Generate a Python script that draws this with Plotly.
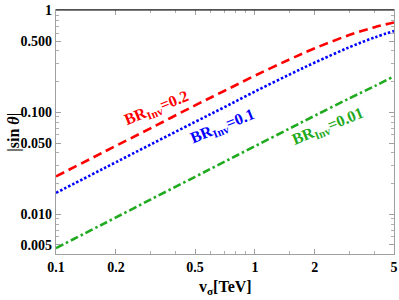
import math
import plotly.graph_objects as go

# data
v_sigma = [0.1, 0.15, 0.2, 0.3, 0.5, 0.7, 1.0, 1.5, 2.0, 3.0, 4.0, 5.0]
sin_br02 = [0.0235, 0.0352, 0.0469, 0.070, 0.117, 0.162, 0.229, 0.332, 0.425, 0.576, 0.685, 0.762]
sin_br01 = [0.0162, 0.0243, 0.0324, 0.0485, 0.0805, 0.112, 0.160, 0.236, 0.308, 0.437, 0.544, 0.627]
sin_br001 = [0.00465, 0.00698, 0.0093, 0.0140, 0.0233, 0.0326, 0.0465, 0.0697, 0.0928, 0.138, 0.181, 0.226]

x_ticks = [0.1, 0.2, 0.5, 1, 2, 5]
x_ticktext = ["0.1", "0.2", "0.5", "1", "2", "5"]
y_ticks = [0.005, 0.01, 0.05, 0.1, 0.5, 1]
y_ticktext = ["0.005", "0.010", "0.050", "0.100", "0.500", "1"]
x_minor = [0.3, 0.4, 0.6, 0.7, 0.8, 0.9, 1.5, 3, 4]
y_minor = [0.006, 0.007, 0.008, 0.009, 0.02, 0.03, 0.04, 0.06, 0.07, 0.08, 0.09,
           0.2, 0.3, 0.4, 0.6, 0.7, 0.8, 0.9]

# label texts and anchor points (data coords)
label_texts = ["<b>BR<sub>Inv</sub>=0.2</b>", "<b>BR<sub>Inv</sub>=0.1</b>", "<b>BR<sub>Inv</sub>=0.01</b>"]
label_x = [0.32, 0.69, 2.34]
label_y = [0.108, 0.0718, 0.0734]

RED = "#ff0000"
BLUE = "#0000ff"
GREEN = "#1faa1f"
colors = [RED, BLUE, GREEN]
SERIF = "Liberation Serif"

fig = go.Figure()
fig.add_trace(go.Scatter(x=v_sigma, y=sin_br02, mode="lines",
                         line=dict(color=RED, width=2.6, dash="9px,5px", shape="spline")))
fig.add_trace(go.Scatter(x=v_sigma, y=sin_br01, mode="lines",
                         line=dict(color=BLUE, width=2.6, dash="2.5px,2px", shape="spline")))
fig.add_trace(go.Scatter(x=v_sigma, y=sin_br001, mode="lines",
                         line=dict(color=GREEN, width=2.6, dash="8px,3px,2.5px,3px", shape="spline")))

axis_common = dict(
    type="log", showgrid=False, zeroline=False, showline=True, automargin=False,
    linecolor="#a0a0a0", linewidth=1.2, mirror="allticks",
    ticks="inside", ticklen=5, tickcolor="#a0a0a0", tickwidth=1,
    ticklabeloverflow="allow",
    tickfont=dict(family=SERIF, size=14, color="black", weight="bold"),
)

fig.update_xaxes(
    **axis_common,
    range=[-1, 0.69897],
    tickvals=x_ticks, ticktext=x_ticktext,
    minor=dict(tickvals=x_minor, ticks="inside", ticklen=3, tickcolor="#b0b0b0"),
)
fig.update_yaxes(
    **axis_common,
    range=[-2.39, 0.004],
    tickvals=y_ticks, ticktext=y_ticktext,
    minor=dict(tickvals=y_minor, ticks="inside", ticklen=3, tickcolor="#b0b0b0"),
)

# black top frame line
fig.add_shape(type="line", xref="paper", yref="paper", x0=0, x1=1, y0=1, y1=1,
              line=dict(color="black", width=1.2))

# axis titles
fig.add_annotation(xref="paper", yref="paper", x=0.5, y=-0.138, xanchor="center", yanchor="middle",
                   text="<b>v<sub>σ</sub>[TeV]</b>",
                   showarrow=False, font=dict(family=SERIF, size=16, color="black"))
fig.add_annotation(xref="paper", yref="paper", x=-0.125, y=0.5, xanchor="center", yanchor="middle",
                   text="<b>|sin <i>θ</i>|</b>",
                   showarrow=False, textangle=-90, font=dict(family=SERIF, size=16, color="black"))

for txt, lx, ly, col in zip(label_texts, label_x, label_y, colors):
    fig.add_annotation(x=math.log10(lx), y=math.log10(ly), xref="x", yref="y", text=txt,
                       showarrow=False, textangle=-22,
                       font=dict(family=SERIF, size=16, color=col))

fig.update_layout(
    width=399, height=300,
    margin=dict(l=56, r=5, t=10, b=46),
    paper_bgcolor="white", plot_bgcolor="white",
    showlegend=False,
)

fig.write_html("out.html", config={"displayModeBar": False},
               post_script="document.body.style.margin='0';")
